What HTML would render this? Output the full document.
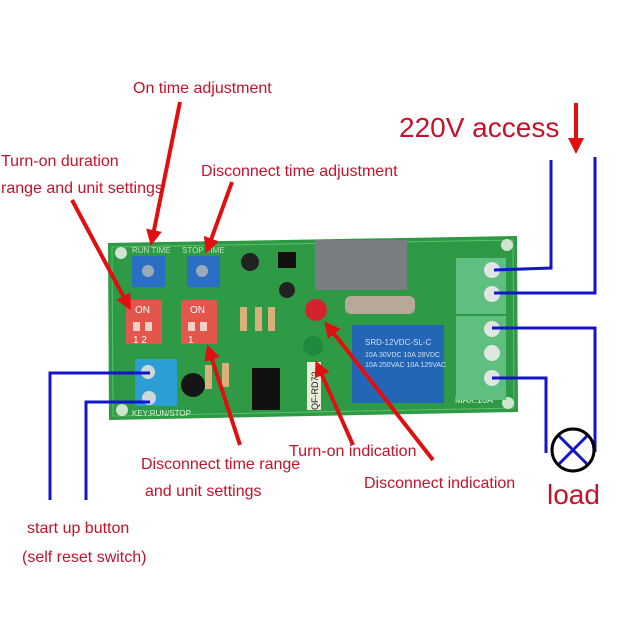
<!DOCTYPE html>
<html><head><meta charset="utf-8"><style>
html,body{margin:0;padding:0;background:#fff;width:630px;height:630px;overflow:hidden}
svg{display:block}
text{font-family:"Liberation Sans",sans-serif}
</style></head><body>
<svg width="630" height="630" viewBox="0 0 630 630" xmlns="http://www.w3.org/2000/svg">
<defs>
<marker id="ah" markerWidth="4" markerHeight="4" refX="2.5" refY="2" orient="auto" markerUnits="strokeWidth">
<path d="M0,0 L4,2 L0,4 z" fill="#e01010"/></marker>
</defs>
<rect width="630" height="630" fill="#fff"/>
<!-- board -->
<polygon points="108,243 517,236 518,412 109,420" fill="#2f9a45"/>
<polygon points="112,247 513,240 514,408 113,416" fill="none" stroke="#5cc06a" stroke-width="1"/>
<circle cx="121" cy="253" r="6" fill="#cfe5cf"/><circle cx="122" cy="410" r="6" fill="#cfe5cf"/>
<circle cx="507" cy="245" r="6" fill="#cfe5cf"/><circle cx="508" cy="403" r="6" fill="#cfe5cf"/>
<text x="132" y="253" font-size="8" fill="#bfe3c2">RUN TIME</text>
<text x="182" y="253" font-size="8" fill="#bfe3c2">STOP TIME</text>
<!-- pots -->
<rect x="132" y="256" width="33" height="31" fill="#2a6fc4"/><circle cx="148" cy="271" r="6" fill="#9ab"/>
<rect x="187" y="256" width="33" height="31" fill="#2a6fc4"/><circle cx="202" cy="271" r="6" fill="#9ab"/>
<!-- dip switches -->
<rect x="126" y="300" width="36" height="44" fill="#e2564c"/>
<text x="135" y="313" font-size="10" fill="#fff">ON</text>
<rect x="133" y="322" width="7" height="9" fill="#f3d0c8"/><rect x="145" y="322" width="7" height="9" fill="#f3d0c8"/>
<text x="133" y="343" font-size="10" fill="#fff">1 2</text>
<rect x="181" y="300" width="36" height="44" fill="#e2564c"/>
<text x="190" y="313" font-size="10" fill="#fff">ON</text>
<rect x="188" y="322" width="7" height="9" fill="#f3d0c8"/><rect x="200" y="322" width="7" height="9" fill="#f3d0c8"/>
<text x="188" y="343" font-size="10" fill="#fff">1</text>
<!-- left terminal -->
<rect x="135" y="359" width="42" height="47" fill="#2c9ed6"/>
<circle cx="148" cy="372" r="7" fill="#cfd8d8"/><circle cx="149" cy="398" r="7" fill="#cfd8d8"/>
<text x="132" y="416" font-size="8" fill="#d8f0d8">KEY:RUN/STOP</text>
<!-- small components -->
<circle cx="250" cy="262" r="9" fill="#222"/><circle cx="287" cy="290" r="8" fill="#222"/>
<rect x="278" y="252" width="18" height="16" fill="#111"/>
<circle cx="193" cy="385" r="12" fill="#151515"/>
<rect x="240" y="307" width="7" height="24" fill="#d9b07a"/><rect x="255" y="307" width="7" height="24" fill="#d9b07a"/><rect x="268" y="307" width="7" height="24" fill="#d9b07a"/>
<rect x="205" y="365" width="7" height="24" fill="#d9b07a"/><rect x="222" y="363" width="7" height="24" fill="#d9b07a"/>
<rect x="252" y="368" width="28" height="42" fill="#111"/>
<rect x="307" y="362" width="14" height="48" fill="#e8ecd8"/>
<text x="318" y="410" font-size="9" fill="#222" transform="rotate(-90 318 410)">QF-RD72</text>
<!-- leds -->
<circle cx="316" cy="310" r="11" fill="#d2242a"/>
<circle cx="313" cy="346" r="10" fill="#1f8a3e"/>
<!-- transformer -->
<rect x="315" y="240" width="92" height="50" fill="#7b7e80"/>
<rect x="345" y="296" width="70" height="18" rx="6" fill="#b8a89a"/>
<!-- relay -->
<rect x="352" y="325" width="92" height="78" fill="#2466b6"/>
<text x="365" y="345" font-size="8" fill="#d0e0f0">SRD-12VDC-SL-C</text>
<text x="365" y="357" font-size="7" fill="#d0e0f0">10A 30VDC 10A 28VDC</text>
<text x="365" y="367" font-size="7" fill="#d0e0f0">10A 250VAC 10A 125VAC</text>
<text x="455" y="403" font-size="9" fill="#e0f0e0">MAX:10A</text>
<!-- right terminals -->
<rect x="456" y="258" width="50" height="56" fill="#5fbf80"/>
<rect x="456" y="316" width="50" height="84" fill="#5fbf80"/>
<circle cx="492" cy="270" r="8" fill="#dfe6e2"/><circle cx="492" cy="294" r="8" fill="#dfe6e2"/>
<circle cx="492" cy="329" r="8" fill="#dfe6e2"/><circle cx="492" cy="353" r="8" fill="#dfe6e2"/><circle cx="492" cy="378" r="8" fill="#dfe6e2"/>
<!-- blue wires -->
<g stroke="#1414c8" stroke-width="3" fill="none">
<polyline points="551,160 551,268 494,270"/>
<polyline points="595,157 595,293 494,293"/>
<polyline points="492,328 595,328 595,452"/>
<polyline points="492,378 546,378 546,453"/>
<polyline points="150,373 50,373 50,500"/>
<polyline points="150,402 86,402 86,500"/>
<line x1="559" y1="436" x2="587" y2="464"/><line x1="587" y1="436" x2="559" y2="464"/>
</g>
<circle cx="573" cy="450" r="21" fill="none" stroke="#000" stroke-width="3"/>
<!-- red arrows -->
<g stroke="#e01010" stroke-width="4" fill="none" marker-end="url(#ah)">
<line x1="180" y1="102" x2="152" y2="240"/>
<line x1="72" y1="200" x2="128" y2="305"/>
<line x1="232" y1="182" x2="208" y2="248"/>
<line x1="240" y1="445" x2="209" y2="350"/>
<line x1="353" y1="445" x2="318" y2="366"/>
<line x1="433" y1="460" x2="328" y2="326"/>
<line x1="576" y1="103" x2="576" y2="148"/>
</g>
<!-- labels -->
<g fill="#c4122b" font-size="16" font-weight="500">
<text x="133" y="93">On time adjustment</text>
<text x="1" y="166">Turn-on duration</text>
<text x="1" y="193">range and unit settings</text>
<text x="201" y="176">Disconnect time adjustment</text>
<text x="141" y="469">Disconnect time range</text>
<text x="145" y="496">and unit settings</text>
<text x="289" y="456">Turn-on indication</text>
<text x="364" y="488">Disconnect indication</text>
<text x="27" y="533">start up button</text>
<text x="22" y="562">(self reset switch)</text>
<text x="399" y="137" font-size="28">220V access</text>
<text x="547" y="504" font-size="28">load</text>
</g>
</svg>
</body></html>
